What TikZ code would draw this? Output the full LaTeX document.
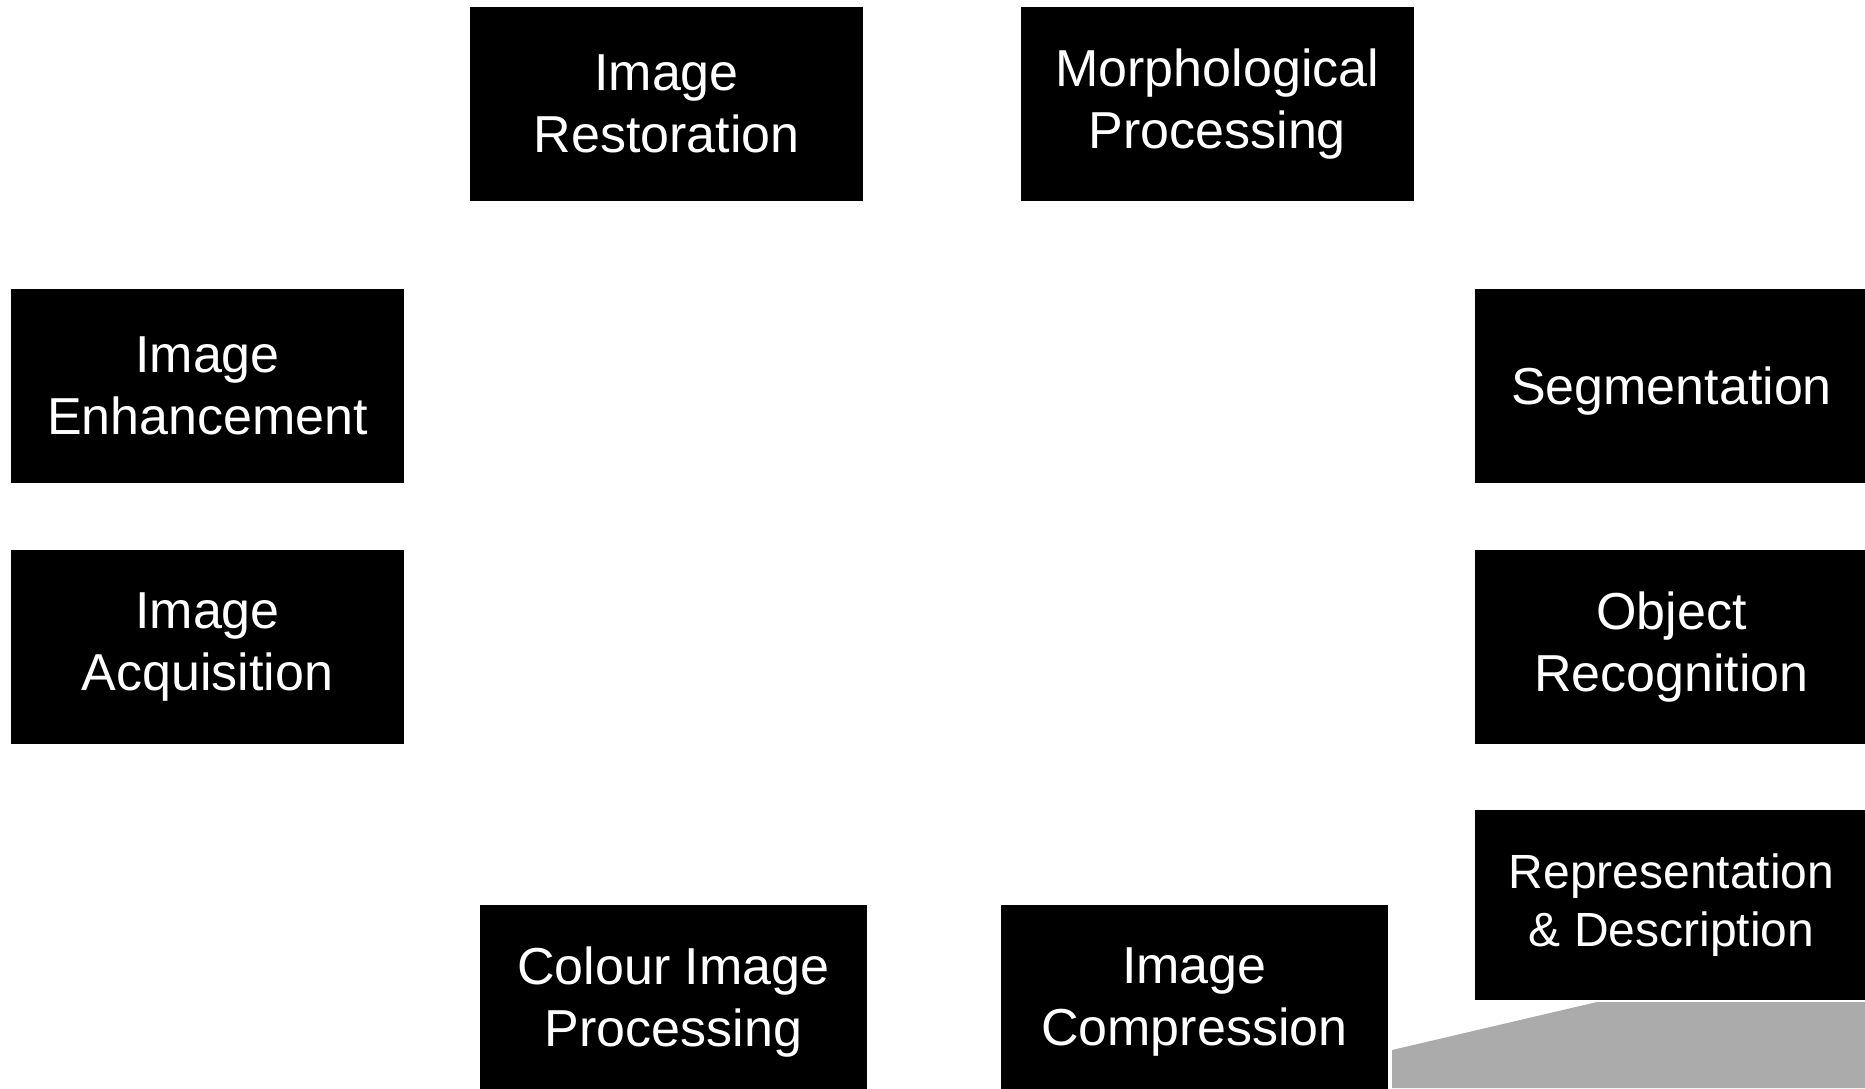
\documentclass[tikz,border=0pt]{standalone}
\usepackage{fontspec}
\setmainfont{Liberation Sans}
\usepackage{xcolor}
\usepackage{tikz}
\usetikzlibrary{positioning}
\definecolor{shadegray}{RGB}{171,171,171}
\newcommand{\blkfont}{\fontsize{26}{31}\selectfont}
\newcommand{\smblkfont}{\fontsize{24}{29}\selectfont}

\begin{document}
\begin{tikzpicture}[x=0.5pt,y=-0.5pt,
  blk/.style={fill=black,text=white,align=center,inner sep=0pt,
              minimum width=196.5pt,minimum height=97pt,font=\blkfont},
  gap/.style={node distance=33.5pt}]
  \useasboundingbox (0,0) rectangle (1865,1088);
  \clip (0,0) rectangle (1865,1088);
  % grey slab under the last stage
  \fill[shadegray] (1392,1088) -- (1392,1050) -- (1597,1002) -- (1865,1002) -- (1865,1088) -- cycle;
  \node[blk] (restor) at (666.5,104) {Image\\Restoration};
  \node[blk,right=78.5pt of restor] (morph) {Morphological\\Processing};
  \node[blk] (enhance) at (207.5,385.5) {Image\\Enhancement};
  \node[blk,gap,below=of enhance] (acquis) {Image\\Acquisition};
  \node[blk,text depth=0pt] (segment) at (1671.5,385.5) {Segmentation};
  \node[blk,gap,below=of segment] (objrec) {Object\\Recognition};
  \node[blk,minimum height=95pt,font=\smblkfont] (repdesc) at (1671.5,905) {Representation\\\& Description};
  \node[blk,minimum width=193.5pt] (colour) at (673.5,1002) {Colour Image\\Processing};
  \node[blk,minimum width=193.5pt,right=66.5pt of colour] (compress) {Image\\Compression};
\end{tikzpicture}
\end{document}
